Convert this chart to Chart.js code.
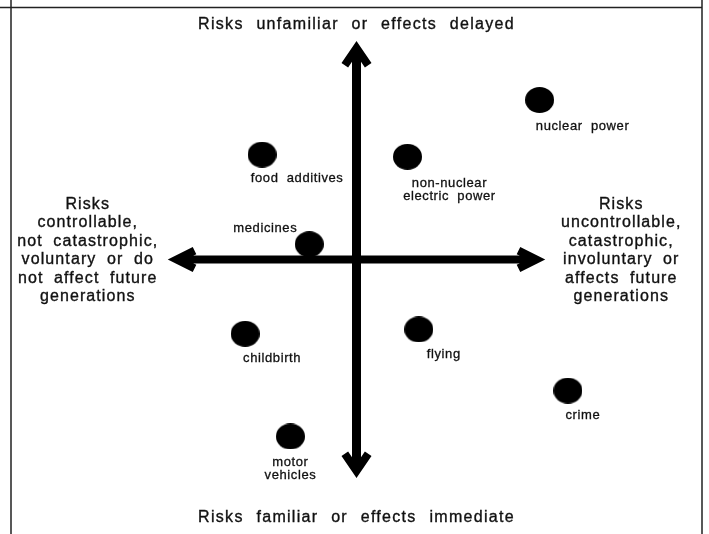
<!DOCTYPE html>
<html>
<head>
<meta charset="utf-8">
<script src="https://cdn.jsdelivr.net/npm/chart.js@4.4.1/dist/chart.umd.min.js"></script>
<style>
  html, body { margin: 0; padding: 0; background: #fff; }
  #wrap { width: 709px; height: 534px; position: relative; }
</style>
</head>
<body>
<div id="wrap"><canvas id="riskChart"></canvas></div>
<script>
// risks placed on two dimensions, both running -10..10 (arrow tip to arrow tip)
const riskNames = ['nuclear power', 'food additives', 'non-nuclear\nelectric power', 'medicines',
                   'childbirth', 'flying', 'crime', 'motor\nvehicles'];
// x: controllable (-) .. uncontrollable (+)
const dreadScores = [9.7, -5.0, 2.7, -2.5, -5.9, 3.3, 11.2, -3.5];
// y: familiar / immediate (-) .. unfamiliar / delayed (+)
const unknownScores = [7.3, 4.8, 4.7, 0.7, -3.4, -3.2, -6.0, -8.1];

const axisTop = 'Risks unfamiliar or effects delayed';
const axisBottom = 'Risks familiar or effects immediate';
const axisLeft = ['Risks', 'controllable,', 'not catastrophic,', 'voluntary or do', 'not affect future', 'generations'];
const axisRight = ['Risks', 'uncontrollable,', 'catastrophic,', 'involuntary or', 'affects future', 'generations'];

// label offsets from the dot centre (px)
const labelOffsets = [[43, 26], [35, 24], [42, 27], [-44, -16], [27, 25], [25, 25], [15, 25], [0, 26]];

const FONT = '"Liberation Sans", Arial, Helvetica, sans-serif';

// black blob used as the point style (a bit wider than tall)
function makeDot(w, h) {
    const c = document.createElement('canvas');
    c.width = w; c.height = h;
    const g = c.getContext('2d');
    g.fillStyle = '#000';
    g.beginPath();
    g.ellipse(w / 2, h / 2, w / 2, h / 2, 0, 0, Math.PI * 2);
    g.fill();
    return c;
}

// text a little heavier than plain canvas text, with extra letter/word spacing
function spacedText(ctx, str, x, y, letter, word) {
    ctx.letterSpacing = letter + 'px';
    ctx.wordSpacing = word + 'px';
    ctx.fillText(str, x, y);
    ctx.strokeText(str, x, y);
}

// arrow head pointing along (dx,dy), tip at (tx,ty)
function arrowHead(ctx, tx, ty, dx, dy, len, half, shaft, wing) {
    const px = -dy, py = dx;
    const pt = (a, p) => [tx - dx * a + px * p, ty - dy * a + py * p];
    const n = Math.hypot(len, half);
    const ia = wing * half / n, ip = wing * len / n;
    const notch = ia + (len / half) * (shaft / 2 + ip);
    const pts = [pt(0, 0), pt(len, half), pt(len + ia, half - ip), pt(notch, shaft / 2),
                 pt(notch, -shaft / 2), pt(len + ia, -(half - ip)), pt(len, -half)];
    ctx.beginPath();
    ctx.moveTo(pts[0][0], pts[0][1]);
    for (let i = 1; i < pts.length; i++) ctx.lineTo(pts[i][0], pts[i][1]);
    ctx.closePath();
    ctx.fill();
    return notch;
}

const quadrantPlugin = {
    id: 'quadrant',
    beforeDatasetsDraw(chart) {
        const ctx = chart.ctx;
        const xs = chart.scales.x, ys = chart.scales.y;
        const x0 = xs.getPixelForValue(0), y0 = ys.getPixelForValue(0);
        const xl = xs.getPixelForValue(-10), xr = xs.getPixelForValue(10);
        const yt = ys.getPixelForValue(10), yb = ys.getPixelForValue(-10);
        ctx.save();

        // frame
        ctx.strokeStyle = '#222';
        ctx.lineWidth = 1.5;
        ctx.beginPath();
        ctx.moveTo(0, 7.5); ctx.lineTo(702, 7.5);
        ctx.moveTo(11, 0); ctx.lineTo(11, chart.height);
        ctx.moveTo(702, 0); ctx.lineTo(702, chart.height);
        ctx.stroke();

        // the two arrows
        ctx.fillStyle = '#000';
        ctx.strokeStyle = '#000';
        ctx.lineCap = 'butt';
        const nT = arrowHead(ctx, x0, yt, 0, -1, 22, 15, 9, 8);
        const nB = arrowHead(ctx, x0, yb, 0, 1, 22, 15, 9, 8);
        ctx.lineWidth = 9;
        ctx.beginPath();
        ctx.moveTo(x0, yt + nT - 1); ctx.lineTo(x0, yb - nB + 1);
        ctx.stroke();
        const nL = arrowHead(ctx, xl, y0, -1, 0, 25, 12.5, 8, 8);
        const nR = arrowHead(ctx, xr, y0, 1, 0, 25, 12.5, 8, 8);
        ctx.lineWidth = 8;
        ctx.beginPath();
        ctx.moveTo(xl + nL - 1, y0); ctx.lineTo(xr - nR + 1, y0);
        ctx.stroke();

        // axis texts
        ctx.fillStyle = '#111';
        ctx.strokeStyle = '#111';
        ctx.lineWidth = 0.35;
        ctx.font = '16px ' + FONT;
        ctx.textAlign = 'center';
        ctx.textBaseline = 'middle';
        spacedText(ctx, axisTop, x0, yt - 16, 1.3, 7);
        spacedText(ctx, axisBottom, x0, yb + 40, 1.3, 7);
        axisLeft.forEach((s, i) => spacedText(ctx, s, xl - 80, y0 - 55 + i * 18.4, 1.1, 5));
        axisRight.forEach((s, i) => spacedText(ctx, s, xr + 76, y0 - 55 + i * 18.4, 1.1, 5));
        ctx.restore();
    },
    afterDatasetsDraw(chart) {
        const ctx = chart.ctx;
        const pts = chart.getDatasetMeta(0).data;
        ctx.save();
        ctx.fillStyle = '#111';
        ctx.strokeStyle = '#111';
        ctx.lineWidth = 0.3;
        ctx.font = '13px ' + FONT;
        ctx.textAlign = 'center';
        ctx.textBaseline = 'middle';
        pts.forEach((p, i) => {
            const [ox, oy] = labelOffsets[i];
            riskNames[i].split('\n').forEach((line, j) => {
                spacedText(ctx, line, p.x + ox, p.y + oy + j * 12.5, 0.6, 4);
            });
        });
        ctx.restore();
    }
};

const dot = makeDot(29, 26);

new Chart(document.getElementById('riskChart'), {
    type: 'scatter',
    data: {
        datasets: [{
            data: dreadScores.map((v, i) => ({ x: v, y: unknownScores[i] })),
            pointStyle: dot,
            pointRadius: 14,
            clip: false
        }]
    },
    options: {
        responsive: true,
        maintainAspectRatio: false,
        animation: false,
        layout: { padding: { left: 130, right: 126, top: 41, bottom: 56 } },
        scales: {
            x: { type: 'linear', min: -12, max: 12, display: false },
            y: { type: 'linear', min: -10, max: 10, display: false }
        },
        plugins: {
            legend: { display: false },
            tooltip: { enabled: false }
        }
    },
    plugins: [quadrantPlugin]
});
</script>
</body>
</html>
